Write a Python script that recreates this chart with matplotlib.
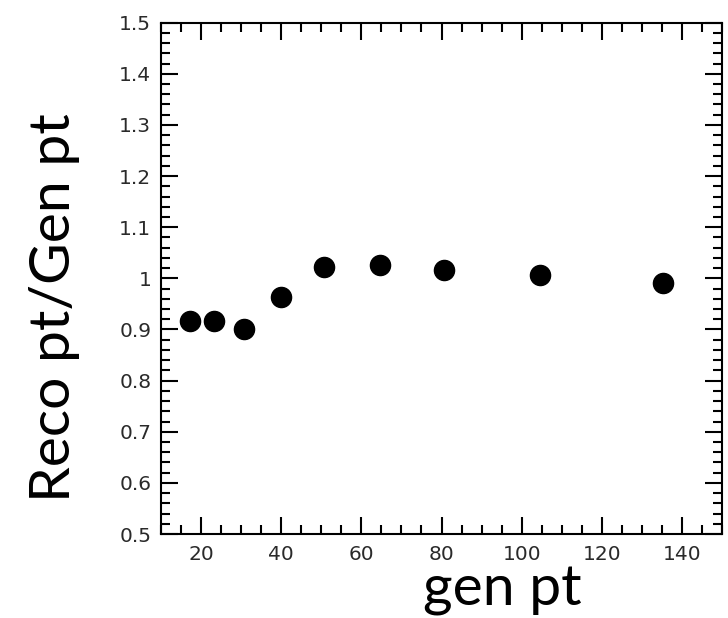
import matplotlib
matplotlib.use("Agg")
import matplotlib.pyplot as plt
from matplotlib.ticker import MultipleLocator

# response vs generated pt
gen_pt = [17.3, 23.2, 30.6, 40.0, 50.6, 64.6, 80.6, 104.6, 135.2]
reco_over_gen = [0.917, 0.917, 0.901, 0.964, 1.022, 1.027, 1.016, 1.007, 0.990]

fig = plt.figure(figsize=(7.28, 6.18), dpi=100)
ax = fig.add_axes([0.2212, 0.1359, 0.7706, 0.8274])

ax.plot(gen_pt, reco_over_gen, linestyle="none", marker="o",
        markersize=14.5, color="black")

ax.set_xlim(10, 150)
ax.set_ylim(0.5, 1.5)
ax.xaxis.set_major_locator(MultipleLocator(20))
ax.xaxis.set_minor_locator(MultipleLocator(5))
ax.yaxis.set_major_locator(MultipleLocator(0.1))
ax.yaxis.set_minor_locator(MultipleLocator(0.02))
ax.xaxis.set_major_formatter(lambda v, p: f"{v:g}")
ax.yaxis.set_major_formatter(lambda v, p: f"{v:g}")

for s in ax.spines.values():
    s.set_linewidth(1.5)
ax.tick_params(which="both", direction="in", top=True, right=True,
               width=1.5, labelsize=14.5, labelcolor="#2a2a2a")
ax.tick_params(which="major", length=12)
ax.tick_params(which="minor", length=6.5)
ax.tick_params(axis="y", pad=7)
ax.tick_params(axis="x", pad=8)

fig.text(0.0962, 0.5024, "Reco pt/Gen pt", rotation=90, rotation_mode="anchor",
         ha="center", va="baseline", fontsize=41, family="Lato")
fig.text(0.690, 0.021, "gen pt", ha="center", va="baseline",
         fontsize=41, family="Lato")

fig.savefig("out.png", dpi=100)
